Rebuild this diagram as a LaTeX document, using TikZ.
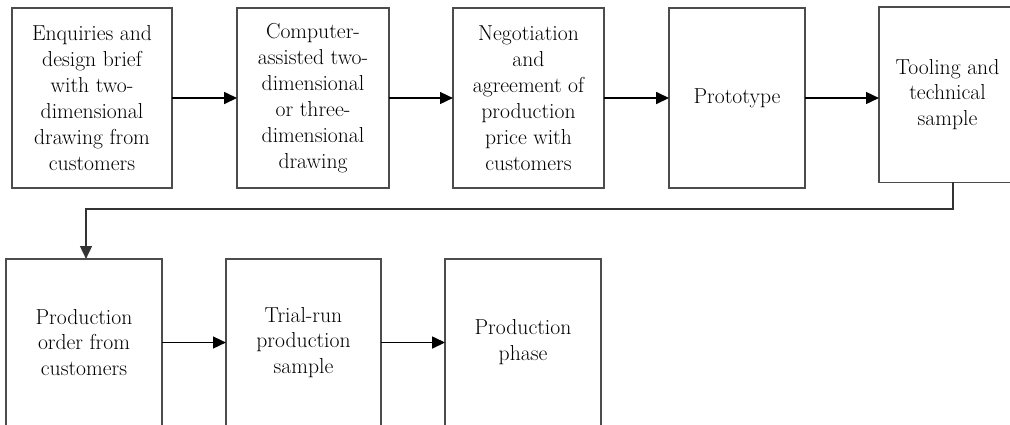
\documentclass[tikz,border=0pt]{standalone}
\usetikzlibrary{arrows.meta}
\begin{document}
\begin{tikzpicture}[x=0.025cm, y=-0.025cm,
% common options for the boxes:
box/.style = {rectangle, draw=black!70, line width=0.9pt, align=center,
            inner sep=0, outer sep=0, font=\fontsize{15.4}{18.4}\selectfont},
% common options for the arrows:
arr/.style = {-{Triangle[length=3.2mm,width=3mm]}, line width=0.8pt}]
\useasboundingbox (0,0) rectangle (1010,424);
\node[box, minimum width=4.0cm, minimum height=4.5cm] (T1) at (92,98) {Enquiries and\\design brief\\with two-\\dimensional\\drawing from\\customers};
\node[box, minimum width=3.8cm, minimum height=4.5cm] (T2) at (313,98) {Computer-\\assisted two-\\dimensional\\or three-\\dimensional\\drawing};
\node[box, minimum width=3.78cm, minimum height=4.5cm] (T3) at (528.5,98) {Negotiation\\and\\agreement of\\production\\price with\\customers};
\node[box, minimum width=3.4cm, minimum height=4.5cm] (T4) at (737,98) {Prototype};
\node[box, minimum width=3.43cm, minimum height=4.38cm] (T5) at (947.5,94.5) {Tooling and\\technical\\sample};
\node[box, minimum width=3.9cm, minimum height=4.18cm] (B1) at (84,342.5) {Production\\order from\\customers};
\node[box, minimum width=3.88cm, minimum height=4.18cm] (B2) at (303.5,342.5) {Trial-run\\production\\sample};
\node[box, minimum width=3.9cm, minimum height=4.18cm] (B3) at (523,342.5) {Production\\phase};
\coordinate (C1) at (953,209);
\coordinate (C2) at (86,209);
\draw[arr] (T1.east) to (T2.west);
\draw[arr] (T2.east) to (T3.west);
\draw[arr] (T3.east) to (T4.west);
\draw[arr] (T4.east) to (T4.east -| T5.west);
\draw[arr, draw=black!80] (C1 |- T5.south) -- (C1) -- (C2) -- (C2 |- B1.north);
\draw[arr] (B1.east) to (B2.west);
\draw[arr] (B2.east) to (B3.west);
\end{tikzpicture}
\end{document}
